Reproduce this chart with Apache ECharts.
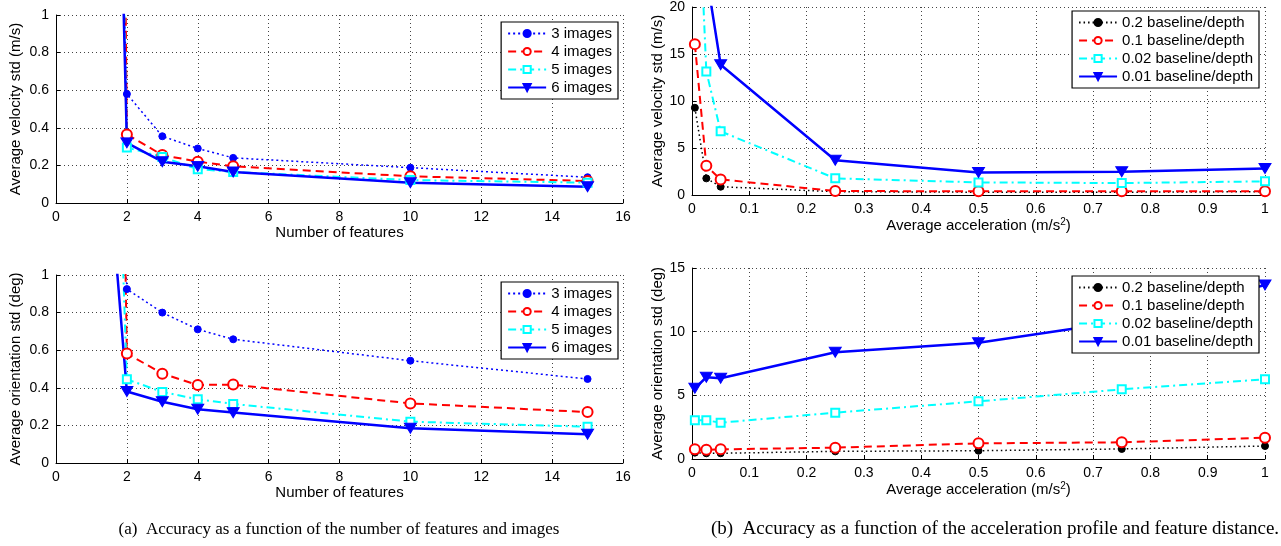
<!DOCTYPE html>
<html>
<head>
<meta charset="utf-8">
<script src="https://cdn.jsdelivr.net/npm/echarts@6/dist/echarts.min.js"></script>
<style>
html,body{margin:0;padding:0;background:#fff;}
#chart{width:1281px;height:546px;}
</style>
</head>
<body>
<div id="chart"></div>
<script>
// ---- data ----
const featX = [1, 2, 3, 4, 5, 10, 15];
const velImg3 = [7, 0.58, 0.355, 0.29, 0.24, 0.188, 0.137];
const velImg4 = [20, 0.365, 0.255, 0.22, 0.195, 0.142, 0.117];
const velImg5 = [10, 0.295, 0.245, 0.18, 0.165, 0.122, 0.108];
const velImg6 = [8, 0.32, 0.22, 0.195, 0.165, 0.108, 0.087];

const oriImg3 = [5, 0.925, 0.80, 0.711, 0.658, 0.544, 0.447];
const oriImg4 = [12, 0.583, 0.475, 0.415, 0.417, 0.317, 0.271];
const oriImg5 = [6, 0.445, 0.378, 0.339, 0.314, 0.22, 0.193];
const oriImg6 = [2.7, 0.38, 0.326, 0.286, 0.268, 0.185, 0.153];

const accX = [0.005, 0.025, 0.05, 0.25, 0.5, 0.75, 1];
const velB02 = [9.28, 1.77, 0.88, 0.35, 0.3, 0.3, 0.35];
const velB01 = [16.05, 3.1, 1.66, 0.42, 0.4, 0.4, 0.4];
const velB002 = [41, 13.15, 6.77, 1.77, 1.34, 1.27, 1.45];
const velB001 = [60, 23.5, 13.86, 3.7, 2.4, 2.47, 2.82];

const oriB02 = [0.5, 0.45, 0.45, 0.6, 0.65, 0.79, 1.02];
const oriB01 = [0.76, 0.72, 0.76, 0.89, 1.23, 1.31, 1.67];
const oriB002 = [3.04, 3.04, 2.85, 3.64, 4.53, 5.47, 6.26];
const oriB001 = [5.55, 6.42, 6.34, 8.38, 9.13, 10.8, 13.66];

const imgNames = ['3 images', '4 images', '5 images', '6 images'];
const baseNames = ['0.2 baseline/depth', '0.1 baseline/depth', '0.02 baseline/depth', '0.01 baseline/depth'];

const xTitleFeat = 'Number of features';
const xTitleAcc = 'Average acceleration (m/s{sup|2})';
const yTitleVel = 'Average velocity std (m/s)';
const yTitleOri = 'Average orientation std (deg)';
const captionA = '(a)  Accuracy as a function of the number of features and images';
const captionB = '(b)  Accuracy as a function of the acceleration profile and feature distance.';

// ---- styles ----
const FONT = 'Liberation Sans, Arial, sans-serif';
const SERIF = 'Liberation Serif, Times New Roman, serif';
const BLUE = '#0000ff', RED = '#ff0000', CYAN = '#00ffff', BLACK = '#000000';
const triDown = 'path://M0,0L20,0L10,17Z';

const styles = [
  {color: BLUE, type: [2, 3], width: 1.5, symbol: 'circle', size: 7, fill: BLUE},
  {color: RED, type: [8, 5], width: 2, symbol: 'circle', size: 10, fill: '#fff'},
  {color: CYAN, type: [8, 4, 2, 4], width: 2, symbol: 'rect', size: 8, fill: '#fff'},
  {color: BLUE, type: 'solid', width: 2.5, symbol: triDown, size: [12, 10], fill: BLUE}
];
const stylesB = [
  {color: BLACK, type: [1.5, 3], width: 1.5, symbol: 'circle', size: 7, fill: BLACK},
  styles[1], styles[2], styles[3]
];

function mkSeries(name, xs, ys, st, idx) {
  return {
    name: name, type: 'line', xAxisIndex: idx, yAxisIndex: idx,
    data: xs.map((x, i) => [x, ys[i]]),
    symbol: st.symbol, symbolSize: st.size, showSymbol: true, clip: true,
    lineStyle: {color: st.color, type: st.type, width: st.width},
    itemStyle: {color: st.fill, borderColor: st.color, borderWidth: st.fill === '#fff' ? 2 : 1},
    emphasis: {disabled: true}, animation: false
  };
}

const nameStyle = {fontFamily: FONT, fontSize: 15, color: '#000',
  rich: {sup: {fontFamily: FONT, fontSize: 10, color: '#000', padding: [0, 0, 8, 0]}}};

function mkX(idx, min, max, interval, name) {
  return {
    type: 'value', gridIndex: idx, min: min, max: max, interval: interval,
    name: name, nameLocation: 'middle', nameGap: 22,
    nameTextStyle: nameStyle,
    axisLine: {show: true, onZero: false, lineStyle: {color: '#000', width: 1}},
    axisTick: {show: true, inside: true, length: 4, lineStyle: {color: '#000'}},
    axisLabel: {fontFamily: FONT, fontSize: 14, color: '#000', margin: 7},
    splitLine: {show: true, lineStyle: {color: '#444', type: [1, 3], width: 1}}
  };
}
function mkY(idx, min, max, interval, name, gap) {
  return {
    type: 'value', gridIndex: idx, min: min, max: max, interval: interval,
    name: name, nameLocation: 'middle', nameGap: gap,
    nameTextStyle: {fontFamily: FONT, fontSize: 15, color: '#000'},
    axisLine: {show: true, onZero: false, lineStyle: {color: '#000', width: 1}},
    axisTick: {show: true, inside: true, length: 4, lineStyle: {color: '#000'}},
    axisLabel: {fontFamily: FONT, fontSize: 14, color: '#000', margin: 7},
    splitLine: {show: true, lineStyle: {color: '#444', type: [1, 3], width: 1}}
  };
}
function mkLegend(names, right, top) {
  return {
    data: names, orient: 'vertical', right: right, top: top,
    itemWidth: 38, itemHeight: 9, itemGap: 3, padding: [4, 6, 4, 6],
    backgroundColor: '#fff', borderColor: '#000', borderWidth: 1.2,
    textStyle: {fontFamily: FONT, fontSize: 15, color: '#000'},
    selectedMode: false, z: 10
  };
}

const series = [];
[velImg3, velImg4, velImg5, velImg6].forEach((d, i) => series.push(mkSeries(imgNames[i], featX, d, styles[i], 0)));
[oriImg3, oriImg4, oriImg5, oriImg6].forEach((d, i) => series.push(mkSeries(imgNames[i], featX, d, styles[i], 1)));
[velB02, velB01, velB002, velB001].forEach((d, i) => series.push(mkSeries(baseNames[i], accX, d, stylesB[i], 2)));
[oriB02, oriB01, oriB002, oriB001].forEach((d, i) => series.push(mkSeries(baseNames[i], accX, d, stylesB[i], 3)));

const option = {
  backgroundColor: '#fff',
  animation: false,
  grid: [
    {left: 56, top: 15, width: 567, height: 188},
    {left: 56, top: 275, width: 567, height: 188},
    {left: 692, top: 6, width: 573, height: 189},
    {left: 692, top: 268, width: 573, height: 191}
  ],
  xAxis: [
    mkX(0, 0, 16, 2, xTitleFeat),
    mkX(1, 0, 16, 2, xTitleFeat),
    mkX(2, 0, 1, 0.1, xTitleAcc),
    mkX(3, 0, 1, 0.1, xTitleAcc)
  ],
  yAxis: [
    mkY(0, 0, 1, 0.2, yTitleVel, 33),
    mkY(1, 0, 1, 0.2, yTitleOri, 33),
    mkY(2, 0, 20, 5, yTitleVel, 27),
    mkY(3, 0, 15, 5, yTitleOri, 27)
  ],
  legend: [
    mkLegend(imgNames, 663, 22),
    mkLegend(imgNames, 663, 282),
    mkLegend(baseNames, 22, 11),
    mkLegend(baseNames, 22, 276)
  ],
  title: [
    {text: captionA, left: 334, top: 516, textAlign: 'center',
     textStyle: {fontFamily: SERIF, fontSize: 17, fontWeight: 'normal', color: '#000'}},
    {text: captionB, left: 990, top: 515, textAlign: 'center',
     textStyle: {fontFamily: SERIF, fontSize: 19, fontWeight: 'normal', color: '#000'}}
  ],
  series: series
};

const chart = echarts.init(document.getElementById('chart'), null, {renderer: 'canvas'});
chart.setOption(option);
</script>
</body>
</html>
